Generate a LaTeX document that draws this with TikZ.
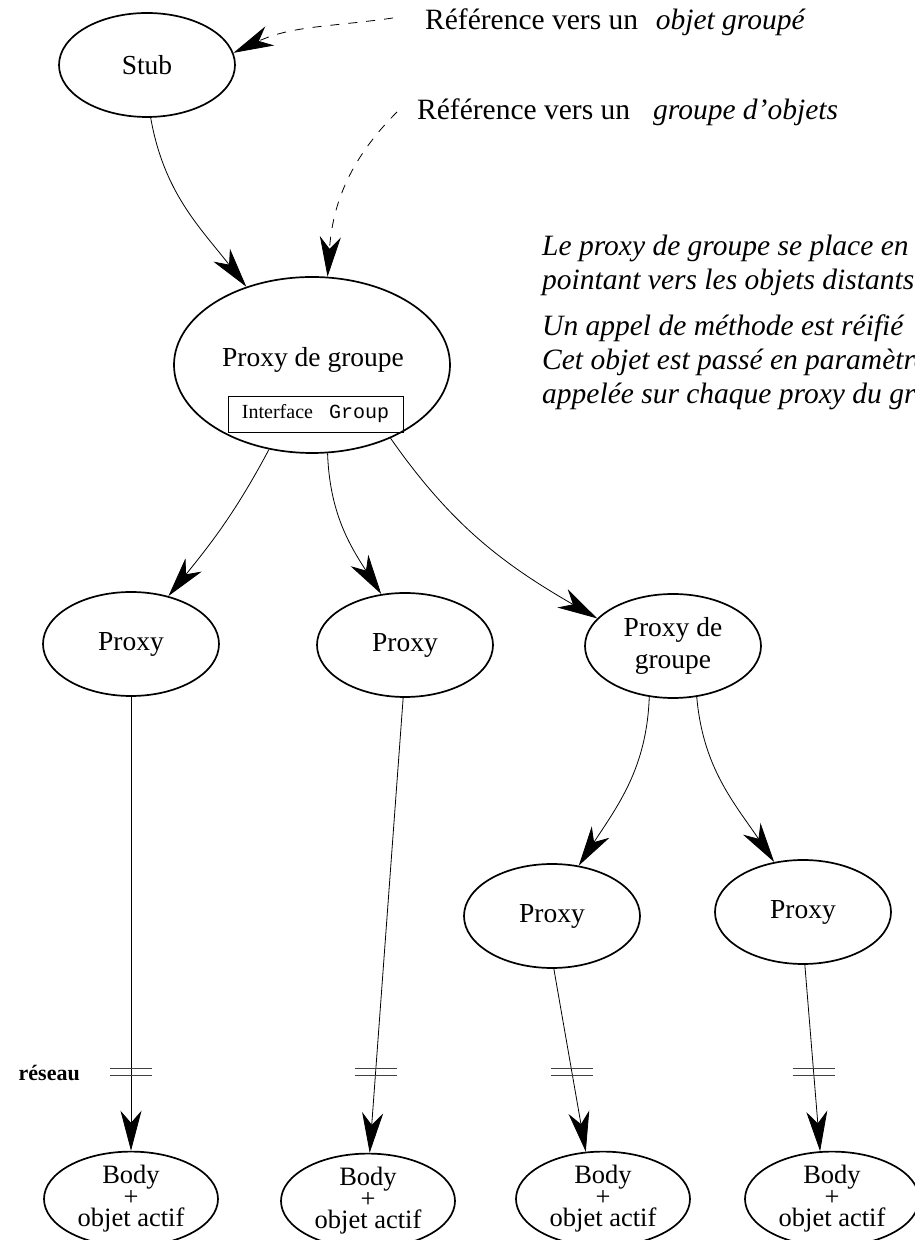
\documentclass[tikz,border=0pt]{standalone}
\usepackage{fontspec}
\setmainfont{Liberation Serif}
\setmonofont{Liberation Mono}
\usetikzlibrary{shapes.geometric,arrows.meta,intersections}
\tikzset{
  nd/.style={ellipse, draw, line width=1.7pt, inner sep=0pt,
    minimum width=176pt, minimum height=104pt, align=center,
    font=\fontsize{27.5}{32}\selectfont},
  bignd/.style={nd, minimum width=276pt, minimum height=176pt},
  bodynd/.style={nd, minimum width=174pt, minimum height=82pt,
    font=\fontsize{26.5}{21.5}\selectfont},
  conn/.style={line width=0.8pt, -{Stealth[length=40pt,width=21pt,inset=12pt]}},
  refconn/.style={conn, dash pattern=on 9pt off 9pt},
  lbl/.style={inner sep=0pt, font=\fontsize{27.5}{32}\selectfont},
  toplbl/.style={inner sep=0pt, anchor=base west, font=\fontsize{29.5}{34}\selectfont},
  note/.style={inner sep=0pt, anchor=base west, font=\itshape\fontsize{29.5}{34}\selectfont},
  ifbox/.style={draw, line width=0.9pt, inner sep=0pt, minimum width=175pt,
    minimum height=36pt, font=\fontsize{20}{24}\selectfont},
  netmark/.style={line width=1.3pt, black!75},
  netlbl/.style={inner sep=0pt, anchor=east, font=\bfseries\fontsize{22}{24}\selectfont}
}
\begin{document}
\begin{tikzpicture}[x=1pt,y=1pt]
\useasboundingbox (0,0) rectangle (915,1240);
\clip (0,0) rectangle (915,1240);

% nodes
\node[nd] (stub) at (147,1175) {Stub};
\node[bignd] (pg) at (312,875) {};
\node[lbl] (pgt) at (313,880) {Proxy de groupe};
\node[ifbox] (iface) at (315.5,826) {Interface\hspace{0.8em}\texttt{Group}};
\node[nd] (p1) at (131,596) {Proxy};
\node[nd] (p2) at (405,595) {Proxy};
\node[nd] (pg2) at (673,594) {Proxy de\\groupe};
\node[nd] (p3) at (552,324) {Proxy};
\node[nd] (p4) at (803,328) {Proxy};
\node[bodynd] (b1) at (131,41) {Body\\+\\objet actif};
\node[bodynd] (b2) at (368,39) {Body\\+\\objet actif};
\node[bodynd] (b3) at (603,41) {Body\\+\\objet actif};
\node[bodynd] (b4) at (832,41) {Body\\+\\objet actif};

% labels
\node[toplbl] (t1) at (425,1210) {Référence vers un\hspace{0.6em}\textit{objet groupé}};
\node[toplbl] (t2) at (417,1120) {Référence vers un\hspace{0.78em}\textit{groupe d’objets}};
\coordinate (d1) at (393,1222);
\coordinate (d2) at (397,1128);

\node[note] (n1) at (542,984) {Le proxy de groupe se place en};
\node[note] (n2) at (542,950) {pointant vers les objets distants};
\node[note] (n3) at (542,904) {Un appel de méthode est réifié};
\node[note] (n4) at (542,870) {Cet objet est passé en paramètre};
\node[note] (n5) at (542,836) {appelée sur chaque proxy du groupe};

\node[netlbl] (net) at (80,167) {réseau};

% connectors
\draw[refconn] (d1) to[out=188,in=25] (stub.8);
\draw[refconn] (d2) to[out=225,in=86] (pg.80);
\draw[conn] (stub.-86) to[out=-80,in=128] (pg.130);
\draw[conn] (pg.243) to[out=-118,in=51] (p1.52);
\draw[conn] (pg.280) to[out=-88,in=123] (p2.115);
\draw[conn] (pg.-43) to[out=-55,in=150] (pg2.160);
\draw[conn] (pg2.245) to[out=-92,in=57] (p3.62);
\draw[conn] (pg2.-65) to[out=-85,in=124] (p4.120);

\path[name path=netline] (0,168) -- (915,168);
\draw[conn, name path=c1] (p1) -- (b1);
\draw[conn, name path=c2] (p2.-92) -- (b2.88);
\draw[conn, name path=c3] (p3.-88) -- (b3.110);
\draw[conn, name path=c4] (p4.-88) -- (b4.104);
\path[name intersections={of=c1 and netline, by=x1}];
\path[name intersections={of=c2 and netline, by=x2}];
\path[name intersections={of=c3 and netline, by=x3}];
\path[name intersections={of=c4 and netline, by=x4}];
\foreach \k in {x1,x2,x3,x4}{
  \draw[netmark] (\k) ++(-21,3.5) -- ++(42,0) (\k) ++(-21,-3.5) -- ++(42,0);
}
\end{tikzpicture}
\end{document}
